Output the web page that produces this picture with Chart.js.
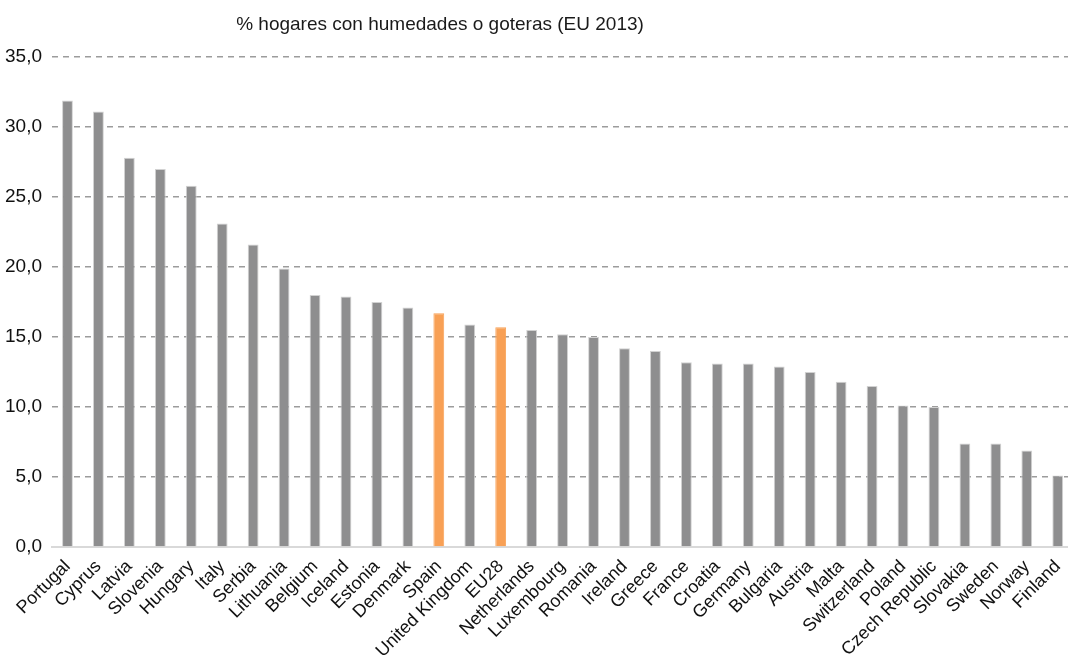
<!DOCTYPE html>
<html>
<head>
<meta charset="utf-8">
<title>Humedades o goteras</title>
<script src="https://cdn.jsdelivr.net/npm/chart.js@4.4.1/dist/chart.umd.min.js"></script>
<style>
  html, body { margin: 0; padding: 0; background: #fff; overflow: hidden; }
  #wrap { width: 1068px; height: 657px; overflow: hidden; }
</style>
</head>
<body>
<div id="wrap"><canvas id="humidity-chart" width="1074" height="657"></canvas></div>
<script>
// Countries, ordered as published
const countries = [
    'Portugal', 'Cyprus', 'Latvia', 'Slovenia', 'Hungary', 'Italy', 'Serbia',
    'Lithuania', 'Belgium', 'Iceland', 'Estonia', 'Denmark', 'Spain',
    'United Kingdom', 'EU28', 'Netherlands', 'Luxembourg', 'Romania', 'Ireland',
    'Greece', 'France', 'Croatia', 'Germany', 'Bulgaria', 'Austria', 'Malta',
    'Switzerland', 'Poland', 'Czech Republic', 'Slovakia', 'Sweden', 'Norway',
    'Finland'
];

// % of households with damp or leaks
const percentHouseholds = [
    31.9, 31.1, 27.8, 27.0, 25.8, 23.1, 21.6,
    19.9, 18.0, 17.9, 17.5, 17.1, 16.7,
    15.9, 15.7, 15.5, 15.2, 15.0, 14.2,
    14.0, 13.2, 13.1, 13.1, 12.9, 12.5, 11.8,
    11.5, 10.1, 10.0, 7.4, 7.4, 6.9,
    5.1
];

// Bars shown in orange
const highlighted = ['Spain', 'EU28'];

const yTicks = [0, 5, 10, 15, 20, 25, 30, 35];

const chartTitle = '% hogares con humedades o goteras (EU 2013)';

const FONT = '"Liberation Sans Narrow", "Arial Narrow", sans-serif';

const barColors = countries.map(c => highlighted.includes(c) ? '#f8a055' : '#8e8e8f');
const edgeColors = countries.map(c => highlighted.includes(c) ? '#f8a055' : '#d2d2d2');

// Title is drawn left of the plot centre
const titlePlugin = {
    id: 'offsetTitle',
    afterDraw(chart) {
        const c = chart.ctx;
        c.save();
        c.font = '19px ' + FONT;
        c.fillStyle = '#1a1a1a';
        c.textAlign = 'center';
        c.textBaseline = 'alphabetic';
        c.fillText(chartTitle, 440, 30);
        c.restore();
    }
};

const ctx = document.getElementById('humidity-chart').getContext('2d');

const humidityChart = new Chart(ctx, {
    type: 'bar',
    data: {
        labels: countries,
        datasets: [{
            label: chartTitle,
            data: percentHouseholds,
            backgroundColor: barColors,
            borderColor: edgeColors,
            borderWidth: 1,
            barPercentage: 0.35,
            categoryPercentage: 1
        }]
    },
    options: {
        responsive: false,
        animation: false,
        layout: { padding: { top: 57, right: 0, left: 0, bottom: 0 } },
        plugins: {
            legend: { display: false },
            tooltip: { enabled: false }
        },
        scales: {
            x: {
                grid: { display: false },
                border: { display: true, color: '#d9d9d9', width: 2 },
                ticks: {
                    color: '#111',
                    font: { family: FONT, size: 18 },
                    minRotation: 45,
                    maxRotation: 45,
                    autoSkip: false,
                    padding: 1
                },
                afterFit(scale) { scale.height = 110; }
            },
            y: {
                min: 0,
                max: 35,
                afterBuildTicks(scale) {
                    scale.ticks = yTicks.map(v => ({ value: v }));
                },
                grid: {
                    color: c => c.tick && c.tick.value === 0 ? 'rgba(0,0,0,0)' : '#9c9c9c',
                    lineWidth: 1.5,
                    drawTicks: false
                },
                border: { display: false, dash: [6, 5] },
                ticks: {
                    color: '#111',
                    font: { family: FONT, size: 19 },
                    padding: 10,
                    callback: v => v.toFixed(1).replace('.', ',')
                },
                afterFit(scale) { scale.width = 52; }
            }
        }
    },
    plugins: [titlePlugin]
});
</script>
</body>
</html>
